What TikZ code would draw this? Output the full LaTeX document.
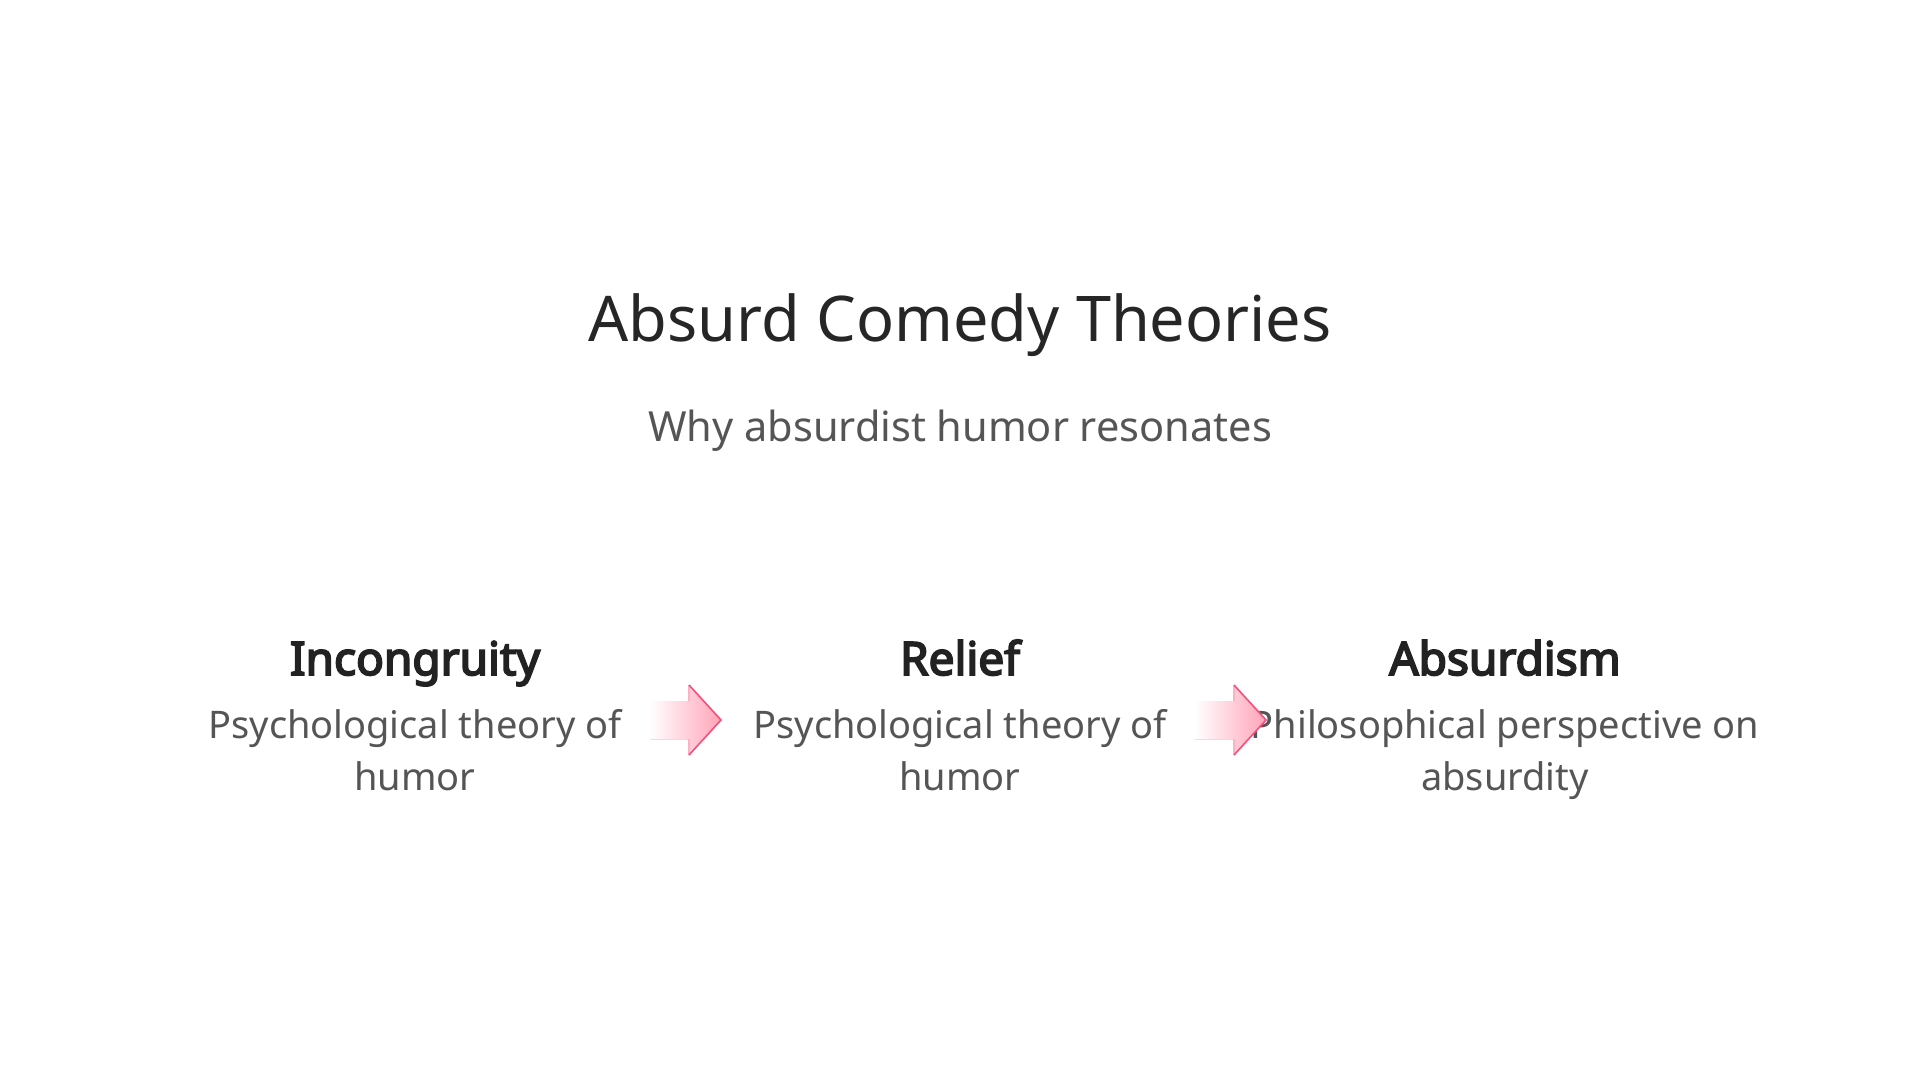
\documentclass[tikz,border=0pt]{standalone}
\usepackage{fontspec}
\setmainfont{Noto Sans}
\newfontfamily\headfont{Noto Sans}[FakeBold=4]
\definecolor{titlecol}{HTML}{262626}
\definecolor{subcol}{HTML}{555555}
\definecolor{headcol}{HTML}{222222}
\definecolor{arrowpink}{HTML}{FFA3B8}
\definecolor{arrowedge}{HTML}{F5507A}
\definecolor{arrowedgelight}{HTML}{FFB0C2}
\tikzset{
  titletext/.style={font=\fontsize{63}{76}\selectfont, text=titlecol, anchor=base, inner sep=0pt},
  subtext/.style={font=\fontsize{41.5}{50}\selectfont, text=subcol, anchor=base, inner sep=0pt},
  headtext/.style={font=\headfont\fontsize{46}{58}\selectfont, text=headcol, anchor=base, inner sep=0pt},
  desctext/.style={font=\fontsize{38}{51.5}\selectfont, text=subcol, anchor=base, inner sep=0pt, align=center},
  arrowfill/.style={left color=white, right color=arrowpink, draw=none},
  arrowhead/.style={draw=arrowedge, line width=1.6pt, line join=miter},
  arrowback/.style={draw=arrowedgelight, line width=1.4pt}
}
\begin{document}
\begin{tikzpicture}[x=1pt,y=-1pt]
\useasboundingbox[fill=white] (0,0) rectangle (1920,1080);
\node[titletext] (title) at (960,341) {Absurd Comedy Theories};
\node[subtext] (sub) at (960,441) {Why absurdist humor resonates};
\node[headtext] (h1) at (415,675) {Incongruity};
\node[headtext] (h2) at (960,675) {Relief};
\node[headtext] (h3) at (1505,675) {Absurdism};
\node[desctext] (d1) at (415,790) {Psychological theory of\\humor};
\node[desctext] (d2) at (960,790) {Psychological theory of\\humor};
\node[desctext] (d3) at (1505,790) {Philosophical perspective on\\absurdity};
\foreach \dx/\nm in {0/a1,545/a2}{
  \begin{scope}[xshift=\dx]
    \coordinate (\nm) at (721,720);
    \fill[arrowfill] (650,701) -- (689,701) -- (689,685) -- (\nm) -- (689,755) -- (689,739) -- (650,739) -- cycle;
    \draw[arrowback] (689,701) -- (689,685);
    \draw[arrowback] (689,739) -- (689,755);
    \draw[arrowhead] (689,685) -- (\nm) -- (689,755);
  \end{scope}
}
\end{tikzpicture}
\end{document}
